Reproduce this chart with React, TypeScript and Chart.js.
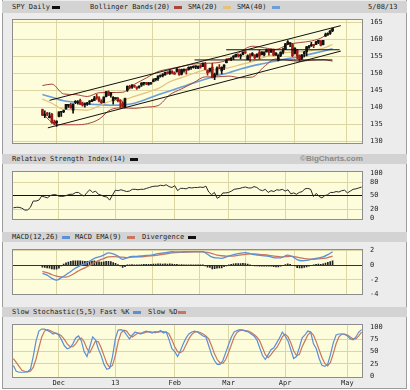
import React, { useEffect, useRef } from "react";
import { Chart, registerables } from "chart.js";
Chart.register(...registerables);

// ---------- data ----------
const MONTH_TICKS = [16, 36, 57, 76, 96, 118];
const MONTH_LABELS = ["Dec", "13", "Feb", "Mar", "Apr", "May"];
const PRICE_TICKS = [130, 135, 140, 145, 150, 155, 160, 165];
const RSI_TICKS = [0, 20, 50, 80, 100];
const MACD_TICKS = [-4, -2, 0, 2];
const STOCH_TICKS = [0, 25, 50, 75, 100];

// SPY daily [open, high, low, close], 8 Nov 2012 .. 8 May 2013
const OHLC = [
  [139.4, 139.5, 137.6, 137.75], [137.6, 139.0, 137.0, 137.99], [138.1, 138.6, 137.6, 138.0], [137.0, 138.5, 136.9, 137.45],
  [138.0, 138.3, 135.3, 135.55], [135.6, 136.3, 134.9, 135.33], [135.5, 136.1, 134.4, 135.99], [137.4, 138.7, 137.2, 138.69],
  [138.6, 138.9, 137.4, 138.78], [138.8, 139.2, 138.5, 139.1], [139.6, 140.95, 139.5, 140.92], [140.6, 140.8, 140.0, 140.63],
  [140.7, 141.2, 139.8, 139.89], [139.2, 141.1, 138.3, 140.99], [141.5, 142.0, 141.1, 141.6], [141.4, 142.0, 141.0, 141.62],
  [142.1, 142.5, 140.8, 140.95], [141.1, 141.6, 140.4, 140.71], [140.8, 141.4, 140.1, 140.93], [141.0, 141.5, 140.6, 141.39],
  [141.6, 142.0, 140.9, 141.81], [141.8, 142.4, 141.7, 141.86], [142.0, 143.3, 142.0, 142.78], [143.0, 143.9, 142.4, 142.85],
  [142.8, 143.2, 141.6, 141.95], [141.9, 142.3, 141.2, 141.36], [141.5, 143.1, 141.4, 143.04], [143.2, 144.7, 143.1, 144.68],
  [144.6, 144.9, 143.5, 143.58], [143.6, 144.4, 143.0, 144.37], [142.0, 143.2, 141.0, 143.02], [142.6, 142.9, 142.4, 142.67],
  [142.7, 143.0, 141.6, 141.98], [142.0, 142.3, 139.8, 141.81], [141.4, 141.7, 140.0, 140.24], [140.0, 142.8, 139.9, 142.62],
  [145.1, 146.4, 144.7, 146.24], [146.1, 146.5, 145.5, 145.94], [146.0, 146.7, 145.6, 146.65], [146.4, 146.6, 145.9, 146.19],
  [146.0, 146.1, 145.3, 145.72], [146.0, 146.4, 145.7, 146.1], [146.6, 147.3, 146.2, 147.21], [147.1, 147.3, 146.6, 147.21],
  [147.1, 147.4, 146.7, 147.07], [146.8, 147.4, 146.6, 147.23], [147.0, 147.4, 146.8, 147.26], [147.6, 148.4, 147.5, 148.09],
  [148.2, 148.6, 147.8, 148.6], [148.5, 149.3, 148.0, 149.26], [149.2, 149.6, 148.9, 149.48], [149.4, 150.0, 149.0, 149.48],
  [149.6, 150.4, 149.5, 150.3], [150.3, 150.6, 149.8, 150.02], [150.0, 150.9, 149.7, 150.78], [150.6, 150.9, 149.9, 150.2],
  [150.2, 150.5, 149.7, 149.81], [150.6, 151.5, 150.4, 151.32], [151.1, 151.3, 149.5, 149.57], [149.8, 151.3, 149.6, 151.13],
  [150.9, 151.4, 150.4, 151.21], [151.2, 151.4, 149.8, 150.94], [151.2, 152.0, 151.0, 151.79], [151.7, 152.0, 151.2, 151.7],
  [151.8, 152.3, 151.6, 151.94], [152.0, 152.3, 151.4, 152.03], [151.6, 152.3, 151.4, 152.14], [152.3, 152.6, 151.6, 151.98],
  [152.1, 153.1, 152.0, 153.09], [153.0, 153.3, 151.1, 151.2], [150.9, 151.1, 149.5, 150.24], [150.8, 151.6, 150.4, 151.56],
  [151.9, 153.0, 148.7, 148.79], [149.0, 150.1, 148.2, 149.69], [149.7, 152.0, 149.6, 151.6], [151.5, 152.6, 151.4, 151.47],
  [150.8, 152.0, 149.9, 151.82], [151.8, 152.6, 151.1, 152.52], [153.2, 154.3, 153.1, 153.98], [154.3, 154.5, 153.9, 154.15],
  [154.2, 154.7, 153.8, 154.43], [154.8, 155.3, 154.1, 155.12], [155.0, 155.7, 154.8, 155.62], [155.4, 155.6, 154.8, 155.25],
  [155.1, 155.7, 154.3, 155.45], [155.6, 156.4, 155.5, 156.32], [156.3, 156.6, 155.9, 156.07], [154.1, 155.5, 154.0, 155.21],
  [155.4, 155.9, 153.6, 154.83], [155.4, 156.2, 155.2, 155.87], [155.4, 155.6, 154.3, 154.58], [154.9, 155.8, 154.8, 155.69],
  [156.2, 156.9, 154.3, 155.17], [155.6, 156.4, 155.5, 156.38], [155.5, 156.4, 155.2, 156.29], [156.4, 157.2, 156.3, 156.92],
  [156.9, 157.0, 155.4, 156.22], [156.3, 157.2, 156.2, 157.03], [157.1, 157.2, 155.2, 155.37], [155.4, 156.2, 155.3, 156.0],
  [153.9, 155.6, 153.7, 155.33], [155.3, 156.4, 155.0, 156.31], [156.3, 157.5, 155.8, 156.86], [157.1, 158.9, 157.0, 158.77],
  [158.8, 159.7, 158.5, 159.34], [158.8, 159.0, 157.9, 158.89], [158.5, 158.9, 155.0, 155.24], [155.9, 157.6, 155.8, 157.46],
  [157.0, 157.1, 154.4, 155.2], [155.3, 155.5, 153.6, 154.16], [154.5, 155.6, 154.1, 155.53], [155.8, 156.5, 154.9, 156.25],
  [156.4, 158.0, 155.2, 157.88], [157.7, 158.3, 157.4, 157.88], [158.1, 159.2, 158.0, 158.52], [158.4, 158.6, 157.6, 158.22],
  [158.6, 159.5, 158.5, 159.36], [159.2, 159.8, 158.8, 159.76], [159.6, 159.7, 158.1, 158.27], [158.5, 159.8, 158.4, 159.76],
  [161.0, 161.9, 160.9, 161.44], [161.5, 161.9, 161.2, 161.75], [161.8, 162.6, 161.5, 162.6], [162.6, 163.3, 162.3, 163.27],
];

// overlay lines, read at these day indexes
const BAND_IDX = [0, 4, 9, 14, 19, 24, 29, 34, 39, 44, 49, 54, 59, 64, 69, 74, 79, 84, 89, 94, 99, 104, 109, 114, 119, 123];
const BB_UPPER = [146.46, 146.88, 143.98, 143.79, 143.23, 144.34, 144.4, 144.48, 146.82, 148.67, 150.56, 151.39, 152.09, 152.77, 153.01, 153.18, 154.16, 156.45, 158.04, 157.59, 157.09, 158.53, 159.12, 159.58, 160.81, 163.44];
const BB_LOWER = [138.46, 135.6, 134.9, 134.91, 135.21, 136.54, 139.4, 139.88, 139.74, 140.11, 140.56, 143.75, 145.49, 147.25, 149.01, 149.02, 149.24, 148.77, 148.96, 152.03, 154.29, 153.93, 153.6, 153.94, 154.09, 153.64];
const SMA20 = [142.46, 141.24, 139.44, 139.35, 139.22, 140.44, 141.9, 142.18, 143.28, 144.39, 145.56, 147.57, 148.79, 150.01, 151.01, 151.1, 151.7, 152.61, 153.5, 154.81, 155.69, 156.23, 156.36, 156.76, 157.45, 158.54];
const SMA40 = [143.8, 143.01, 141.96, 141.55, 141.0, 140.84, 140.67, 140.76, 141.25, 142.41, 143.73, 144.88, 146.04, 147.2, 148.29, 149.34, 150.25, 151.31, 152.26, 152.96, 153.7, 154.42, 154.93, 155.79, 156.57, 157.3];

// hand-drawn trend lines: [startIdx, startPrice, endIdx, endPrice]
const TRENDLINES = [
  [3, 142.1, 126.5, 164.1],
  [2.3, 134.0, 126.5, 156.6],
  [64.5, 154.0, 122.9, 154.0],
  [77.9, 157.0, 126.0, 157.0],
];

const RSI = [
  23, 24, 24, 22, 18, 18, 24, 38, 38, 40, 49, 47, 45, 50, 52, 52, 49, 48, 49, 51,
  53, 53, 57, 57, 52, 49, 57, 63, 57, 60, 53, 51, 48, 47, 40, 51, 62, 61, 63, 61,
  59, 60, 64, 64, 63, 64, 64, 66, 68, 70, 71, 71, 73, 72, 74, 70, 68, 72, 61, 66,
  66, 65, 68, 67, 68, 68, 69, 68, 71, 58, 52, 57, 44, 48, 56, 56, 57, 60, 64, 65,
  66, 68, 69, 67, 67, 70, 68, 63, 61, 64, 57, 61, 59, 63, 62, 64, 60, 63, 54, 56,
  53, 57, 59, 65, 66, 64, 48, 55, 48, 45, 50, 52, 57, 57, 59, 58, 61, 62, 56, 60,
  64, 65, 67, 69,
];

const MACD_IDX = [0, 2, 4, 6, 8, 10, 12, 14, 16, 18, 20, 22, 24, 26, 28, 30, 32, 34, 36, 38, 40, 43, 46, 49, 52, 55, 58, 62, 66, 68, 70, 72, 74, 76, 78, 80, 83, 86, 88, 90, 93, 96, 99, 101, 104, 106, 108, 110, 112, 115, 117, 119, 121, 123];
const MACD = [-1.1, -1.35, -1.8, -2.05, -1.7, -1.3, -0.85, -0.4, -0.05, 0.2, 0.55, 0.95, 1.15, 1.4, 1.7, 1.55, 1.25, 0.8, 1.05, 1.2, 1.2, 1.32, 1.4, 1.58, 1.72, 1.85, 1.82, 1.88, 1.86, 1.88, 1.5, 1.1, 1.0, 0.95, 1.15, 1.37, 1.6, 1.74, 1.6, 1.45, 1.32, 1.22, 1.0, 1.02, 1.38, 1.18, 0.78, 0.62, 0.66, 0.88, 1.02, 1.15, 1.45, 1.85];
const MACD_EMA = [-0.85, -1.0, -1.3, -1.5, -1.6, -1.62, -1.4, -1.02, -0.65, -0.35, -0.03, 0.35, 0.67, 0.92, 1.15, 1.17, 1.15, 1.1, 1.03, 1.12, 1.15, 1.2, 1.28, 1.4, 1.54, 1.69, 1.77, 1.81, 1.83, 1.84, 1.75, 1.6, 1.4, 1.3, 1.25, 1.25, 1.36, 1.5, 1.55, 1.55, 1.46, 1.36, 1.22, 1.16, 1.2, 1.23, 1.12, 0.98, 0.88, 0.82, 0.86, 0.94, 1.06, 1.26];
const DIVERGENCE = [
  -0.25, -0.3, -0.35, -0.4, -0.5, -0.55, -0.55, -0.4, -0.1, 0.15, 0.32, 0.45, 0.55, 0.6, 0.62, 0.62, 0.6, 0.58, 0.55, 0.55,
  0.58, 0.58, 0.6, 0.55, 0.48, 0.42, 0.48, 0.55, 0.55, 0.5, 0.38, 0.25, 0.1, -0.08, -0.3, -0.2, 0.02, 0.06, 0.08, 0.07,
  0.05, 0.06, 0.1, 0.12, 0.11, 0.12, 0.12, 0.15, 0.17, 0.18, 0.18, 0.17, 0.18, 0.17, 0.18, 0.16, 0.12, 0.14, 0.05, 0.08,
  0.07, 0.05, 0.07, 0.06, 0.05, 0.04, 0.03, 0.02, 0.04, -0.1, -0.25, -0.3, -0.5, -0.48, -0.4, -0.38, -0.35, -0.2, -0.1, 0.05,
  0.12, 0.18, 0.22, 0.24, 0.24, 0.25, 0.24, 0.15, 0.05, 0.0, -0.1, -0.1, -0.12, -0.14, -0.14, -0.13, -0.14, -0.12, -0.2, -0.22,
  -0.22, -0.14, -0.05, 0.1, 0.18, 0.12, -0.05, -0.1, -0.34, -0.38, -0.36, -0.3, -0.22, -0.14, 0.0, 0.06, 0.12, 0.16, 0.14, 0.21,
  0.3, 0.39, 0.5, 0.59,
];

const STOCH_K = [
  22, 10, 8, 8, 8, 9, 14, 40, 72, 92, 96, 96, 93, 90, 86, 88, 84, 74, 62, 56,
  58, 66, 78, 82, 72, 50, 40, 60, 80, 74, 56, 42, 24, 14, 16, 40, 76, 94, 95, 92,
  84, 76, 84, 90, 88, 86, 90, 92, 90, 88, 91, 90, 93, 88, 90, 74, 56, 50, 40, 52,
  66, 78, 86, 90, 92, 90, 86, 82, 80, 62, 44, 32, 24, 24, 32, 48, 64, 80, 90, 93,
  95, 94, 92, 90, 86, 82, 74, 58, 42, 34, 44, 54, 58, 68, 78, 90, 82, 72, 54, 36,
  40, 58, 78, 84, 92, 90, 66, 56, 36, 22, 20, 24, 44, 68, 84, 86, 86, 85, 82, 76,
  74, 80, 90, 95,
];
const STOCH_D = [
  36, 28, 20, 12, 10, 9, 10, 18, 35, 58, 80, 92, 95, 93, 90, 87, 86, 82, 75, 66,
  60, 60, 66, 75, 78, 70, 56, 48, 60, 72, 70, 58, 42, 26, 18, 22, 42, 70, 88, 94,
  92, 84, 80, 84, 88, 88, 88, 90, 91, 90, 89, 90, 91, 91, 90, 86, 74, 60, 50, 48,
  52, 64, 76, 85, 90, 91, 89, 86, 82, 76, 62, 46, 34, 27, 26, 34, 48, 64, 80, 89,
  93, 94, 93, 92, 89, 85, 80, 72, 58, 44, 38, 44, 52, 58, 68, 80, 86, 80, 68, 52,
  42, 44, 60, 72, 84, 90, 84, 70, 54, 38, 26, 21, 28, 46, 66, 80, 86, 86, 84, 80,
  76, 76, 82, 90,
];

// ---------- styling ----------
const PANEL_BG = "#fdfcdb";
const GRID = "#dcd6a4";
const FRAME_BG = "#ececec";
const STRIP_BG = "#d3d3d3";
const TEXT = "#1e1e1e";
const MONO = '"DejaVu Sans Mono", monospace';
const TICK_FONT = { family: MONO, size: 7 };
const C_BAND = "#a8463c";
const C_SMA20 = "#e2c27c";
const C_SMA40 = "#6c9fd8";
const C_BLUE = "#5b8fd6";
const C_RED = "#c8765f";
const C_DOWN = "#9e1a16";

const PLOT_LEFT = 12;
const PLOT_W = 351;
const AXIS_W = 45;
const PAD = 6;
const XLAB_H = 12;

const panelPlugin = {
  id: "panelBg",
  beforeDraw(chart: any) {
    const { ctx, chartArea: a } = chart;
    ctx.save();
    ctx.fillStyle = PANEL_BG;
    ctx.fillRect(a.left, a.top, a.right - a.left, a.bottom - a.top);
    ctx.restore();
  },
  afterDraw(chart: any) {
    const { ctx, chartArea: a } = chart;
    ctx.save();
    ctx.strokeStyle = "#8d8d8d";
    ctx.lineWidth = 1;
    ctx.strokeRect(Math.round(a.left) + 0.5, Math.round(a.top) + 0.5, Math.round(a.right - a.left) - 1, Math.round(a.bottom - a.top) - 1);
    ctx.restore();
  },
};

function makeOptions(yMin: number, yMax: number, yTicks: number[], gridColor: any, showX: boolean) {
  return {
    responsive: false,
    animation: false,
    events: [],
    layout: { padding: { top: PAD, bottom: showX ? 0 : PAD, left: 0, right: 0 }, autoPadding: false },
    plugins: { legend: { display: false }, tooltip: { enabled: false } },
    datasets: { bar: { grouped: false } },
    scales: {
      x: {
        type: "linear",
        min: -0.5,
        max: 123.5,
        afterBuildTicks: (ax: any) => {
          ax.ticks = MONTH_TICKS.map((v) => ({ value: v }));
        },
        grid: { color: GRID, drawTicks: false, lineWidth: 1 },
        border: { display: false },
        ticks: {
          display: showX,
          autoSkip: false,
          maxRotation: 0,
          padding: 1,
          font: TICK_FONT,
          color: TEXT,
          callback: (_v: any, i: number) => MONTH_LABELS[i],
        },
        afterFit: (s: any) => {
          s.height = showX ? XLAB_H : 0;
        },
      },
      y: {
        position: "right",
        min: yMin,
        max: yMax,
        afterBuildTicks: (ax: any) => {
          ax.ticks = yTicks.map((v) => ({ value: v }));
        },
        grid: { color: gridColor, drawTicks: false, lineWidth: 1 },
        border: { display: false },
        ticks: { padding: 7, font: TICK_FONT, color: TEXT, autoSkip: false },
        afterFit: (s: any) => {
          s.width = AXIS_W;
        },
      },
    },
  };
}

const pts = (xs: number[], ys: number[]) => xs.map((x, i) => ({ x, y: ys[i] }));
const daily = (ys: number[]) => ys.map((y, i) => ({ x: i, y }));
const line = (data: any, color: string, width: number, order = 2, extra: any = {}) => ({
  type: "line",
  data,
  borderColor: color,
  borderWidth: width,
  pointRadius: 0,
  fill: false,
  order,
  ...extra,
});

function buildPrice(canvas: HTMLCanvasElement) {
  const colors = OHLC.map((r) => (r[3] < r[0] ? C_DOWN : "#111"));
  const wicks = OHLC.map((r, i) => ({ x: i, y: [r[2], r[1]] }));
  const bodies = OHLC.map((r, i) => ({ x: i, y: [r[0], r[3]] }));
  const trend = TRENDLINES.map((t) =>
    line([{ x: t[0], y: t[1] }, { x: t[2], y: t[3] }], "#111", 1, 0, { clip: false })
  );
  return new Chart(canvas, {
    type: "bar",
    data: {
      datasets: [
        ...trend,
        { type: "bar", data: wicks, backgroundColor: colors, barThickness: 1, order: 1 },
        { type: "bar", data: bodies, backgroundColor: colors, barThickness: 2, minBarLength: 1, order: 1 },
        line(pts(BAND_IDX, BB_UPPER), C_BAND, 1, 2, { cubicInterpolationMode: "monotone" }),
        line(pts(BAND_IDX, BB_LOWER), C_BAND, 1, 2, { cubicInterpolationMode: "monotone" }),
        line(pts(BAND_IDX, SMA20), C_SMA20, 1.2, 3, { cubicInterpolationMode: "monotone" }),
        line(pts(BAND_IDX, SMA40), C_SMA40, 1.6, 3, { cubicInterpolationMode: "monotone" }),
      ],
    } as any,
    options: makeOptions(129.3, 166, PRICE_TICKS, GRID, false) as any,
    plugins: [panelPlugin],
  });
}

function buildRsi(canvas: HTMLCanvasElement) {
  return new Chart(canvas, {
    type: "line",
    data: { datasets: [line(daily(RSI), "#2a2a2a", 1)] } as any,
    options: makeOptions(-3.7, 104.2, RSI_TICKS,
      (c: any) => (c.tick.value === 50 ? "#111" : c.tick.value === 20 || c.tick.value === 80 ? GRID : "rgba(0,0,0,0)"),
      false) as any,
    plugins: [panelPlugin],
  });
}

function buildMacd(canvas: HTMLCanvasElement) {
  return new Chart(canvas, {
    type: "bar",
    data: {
      datasets: [
        line(pts(MACD_IDX, MACD), C_BLUE, 1.3, 1, { cubicInterpolationMode: "monotone" }),
        line(pts(MACD_IDX, MACD_EMA), C_RED, 1.3, 1, { cubicInterpolationMode: "monotone" }),
        { type: "bar", data: daily(DIVERGENCE), backgroundColor: "#222", barThickness: 1, order: 2 },
      ],
    } as any,
    options: makeOptions(-4.05, 2.2, MACD_TICKS,
      (c: any) => (c.tick.value === 0 ? "#333" : c.tick.value === -4 ? "rgba(0,0,0,0)" : GRID),
      false) as any,
    plugins: [panelPlugin],
  });
}

function buildStoch(canvas: HTMLCanvasElement) {
  return new Chart(canvas, {
    type: "line",
    data: {
      datasets: [
        line(daily(STOCH_D), C_RED, 1.2, 2),
        line(daily(STOCH_K), C_BLUE, 1.2, 1),
      ],
    } as any,
    options: makeOptions(-3.7, 106, STOCH_TICKS,
      (c: any) => (c.tick.value === 25 || c.tick.value === 50 || c.tick.value === 75 ? GRID : "rgba(0,0,0,0)"),
      true) as any,
    plugins: [panelPlugin],
  });
}

function Txt(props: { x: number; y: number; children: any; style?: any }) {
  return (
    <div
      style={{
        position: "absolute",
        left: props.x,
        top: props.y,
        height: 10,
        lineHeight: "10px",
        fontFamily: MONO,
        fontSize: 7,
        color: TEXT,
        whiteSpace: "nowrap",
        ...props.style,
      }}
    >
      {props.children}
    </div>
  );
}

function Swatch(props: { x: number; y: number; w?: number; color: string }) {
  return (
    <div
      style={{ position: "absolute", left: props.x, top: props.y, width: props.w ?? 8, height: 3, background: props.color }}
    />
  );
}

function Strip(props: { y: number; h: number }) {
  return <div style={{ position: "absolute", left: 2, top: props.y, width: 405, height: props.h, background: STRIP_BG }} />;
}

export default function App() {
  const priceRef = useRef<HTMLCanvasElement>(null);
  const rsiRef = useRef<HTMLCanvasElement>(null);
  const macdRef = useRef<HTMLCanvasElement>(null);
  const stochRef = useRef<HTMLCanvasElement>(null);

  useEffect(() => {
    const charts = [
      buildPrice(priceRef.current!),
      buildRsi(rsiRef.current!),
      buildMacd(macdRef.current!),
      buildStoch(stochRef.current!),
    ];
    return () => charts.forEach((c) => c.destroy());
  }, []);

  const canvasStyle = (top: number, h: number): any => ({
    position: "absolute",
    left: PLOT_LEFT,
    top,
    width: PLOT_W + AXIS_W,
    height: h,
  });

  return (
    <div style={{ position: "fixed", left: 0, top: 0, width: 410, height: 390, background: "#fff", overflow: "hidden" }}>
      <div
        style={{
          position: "absolute",
          left: 2,
          top: 0,
          width: 405,
          height: 389,
          boxSizing: "border-box",
          background: FRAME_BG,
          borderLeft: "1px solid #9c9c9c",
          borderRight: "1px solid #9c9c9c",
          borderBottom: "1px solid #9c9c9c",
        }}
      />
      <Strip y={1} h={12} />
      <Strip y={154} h={10} />
      <Strip y={232} h={10} />
      <Strip y={307} h={10} />

      <Txt x={12} y={2}>SPY Daily</Txt>
      <Swatch x={52} y={6} color="#111" />
      <Txt x={90} y={2}>Bollinger Bands(20)</Txt>
      <Swatch x={174} y={6} color={C_BAND} />
      <Txt x={188} y={2}>SMA(20)</Txt>
      <Swatch x={223} y={6} color={C_SMA20} />
      <Txt x={237} y={2}>SMA(40)</Txt>
      <Swatch x={272} y={6} color={C_SMA40} />
      <Txt x={368} y={2}>5/08/13</Txt>

      <Txt x={12} y={154}>Relative Strength Index(14)</Txt>
      <Swatch x={130} y={158} color="#111" />
      <Txt x={300} y={154} style={{ fontFamily: '"Liberation Sans", Arial, sans-serif', fontWeight: "bold", fontSize: 8, color: "#8a8a8a" }}>
        ©BigCharts.com
      </Txt>

      <Txt x={12} y={232}>MACD(12,26)</Txt>
      <Swatch x={62} y={236} color={C_BLUE} />
      <Txt x={75} y={232}>MACD EMA(9)</Txt>
      <Swatch x={127} y={236} color={C_RED} />
      <Txt x={142} y={232}>Divergence</Txt>
      <Swatch x={188} y={236} color="#111" />

      <Txt x={12} y={307}>Slow Stochastic(5,5)</Txt>
      <Txt x={100} y={307}>Fast %K</Txt>
      <Swatch x={133} y={311} color={C_BLUE} />
      <Txt x={148} y={307}>Slow %D</Txt>
      <Swatch x={178} y={311} color={C_RED} />

      <canvas ref={priceRef} width={PLOT_W + AXIS_W} height={135 + 2 * PAD} style={canvasStyle(14 - PAD, 135 + 2 * PAD)} />
      <canvas ref={rsiRef} width={PLOT_W + AXIS_W} height={59 + 2 * PAD} style={canvasStyle(166 - PAD, 59 + 2 * PAD)} />
      <canvas ref={macdRef} width={PLOT_W + AXIS_W} height={56 + 2 * PAD} style={canvasStyle(244 - PAD, 56 + 2 * PAD)} />
      <canvas ref={stochRef} width={PLOT_W + AXIS_W} height={59 + PAD + XLAB_H} style={canvasStyle(319 - PAD, 59 + PAD + XLAB_H)} />
    </div>
  );
}
